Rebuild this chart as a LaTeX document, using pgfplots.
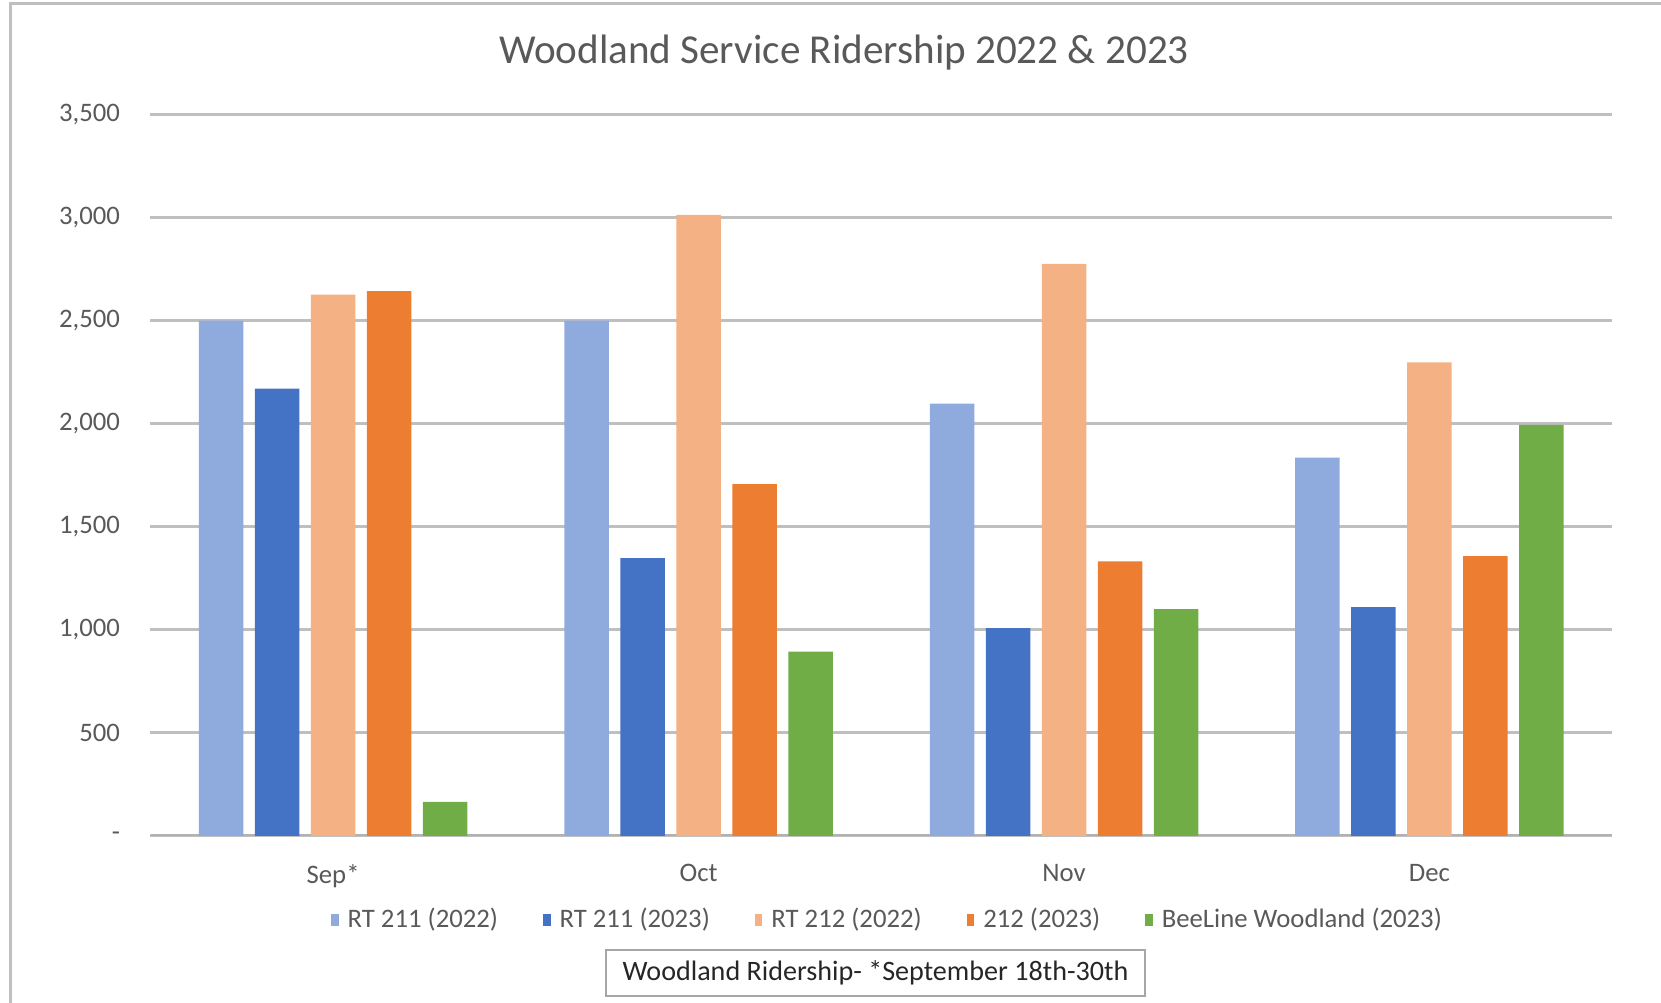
\documentclass[border=0pt]{standalone}
\usepackage{pgfplots}
\pgfplotsset{compat=1.18}
\usepackage{fontspec}
\setmainfont{Carlito}
\definecolor{cA}{HTML}{8FAADC}
\definecolor{cB}{HTML}{4472C4}
\definecolor{cC}{HTML}{F4B183}
\definecolor{cD}{HTML}{ED7D31}
\definecolor{cE}{HTML}{70AD47}
\definecolor{txt}{HTML}{595959}
\definecolor{grid}{HTML}{D9D9D9}
\begin{document}
\begin{tikzpicture}
\useasboundingbox (0,0) rectangle (16.61cm,10.03cm);
\draw[color=black!25, line width=0.3mm] (0.1cm,0) -- (0.1cm,9.99cm) -- (16.61cm,9.99cm);
\node[text=txt, font=\fontsize{11.7pt}{13pt}\selectfont] at (8.44cm,9.50cm) {Woodland Service Ridership 2022 \& 2023};
\begin{axis}[
  at={(1.504cm,1.672cm)}, anchor=south west,
  scale only axis, width=14.618cm, height=7.214cm,
  ybar=0.115cm, bar width=0.445cm,
  xmin=-0.5, xmax=3.5, ymin=0, ymax=3500,
  xtick={0,1,2,3}, xticklabels={Sep*,Oct,Nov,Dec},
  ytick={0,500,1000,1500,2000,2500,3000,3500},
  yticklabels={{-\hspace{4mm}},500,{1,000},{1,500},{2,000},{2,500},{3,000},{3,500}},
  axis line style={draw=none},
  major tick length=0pt,
  ymajorgrids, xmajorgrids=false, grid style={grid, line width=0.25mm},
  ticklabel style={text=txt, font=\fontsize{7.6pt}{9pt}\selectfont},
  yticklabel style={xshift=-1.8mm},
  xticklabel style={yshift=-1.6mm},
  legend columns=5,
  legend style={draw=none, fill=none, at={(0.506,-0.117)}, anchor=center,
    font=\fontsize{7.6pt}{9pt}\selectfont, text=txt,
    /tikz/every even column/.append style={column sep=3.8mm},
    /tikz/every odd column/.append style={column sep=0.2mm}},
  legend image code/.code={\fill[#1,draw=none] (0cm,-0.6mm) rectangle (0.75mm,0.6mm);},
  every axis plot/.append style={draw=none},
]
\draw[color=black!30, line width=0.3mm] (axis cs:-0.5,0) -- (axis cs:3.5,0);
\addplot[fill=cA] coordinates {(0,2500) (1,2500) (2,2097) (3,1835)};
\addplot[fill=cB] coordinates {(0,2169) (1,1347) (2,1007) (3,1110)};
\addplot[fill=cC] coordinates {(0,2626) (1,3012) (2,2775) (3,2297)};
\addplot[fill=cD] coordinates {(0,2642) (1,1706) (2,1331) (3,1357)};
\addplot[fill=cE] coordinates {(0,164) (1,894) (2,1100) (3,1994)};
\legend{RT 211 (2022),RT 211 (2023),RT 212 (2022),212 (2023),BeeLine Woodland (2023)}
\end{axis}
\node[draw=black!35, line width=0.25mm, minimum width=5.39cm, minimum height=0.46cm, inner sep=0pt,
  font=\fontsize{8pt}{9pt}\selectfont, text=black!85] at (8.755cm,0.30cm) {Woodland Ridership- *September 18th-30th};
\end{tikzpicture}
\end{document}
